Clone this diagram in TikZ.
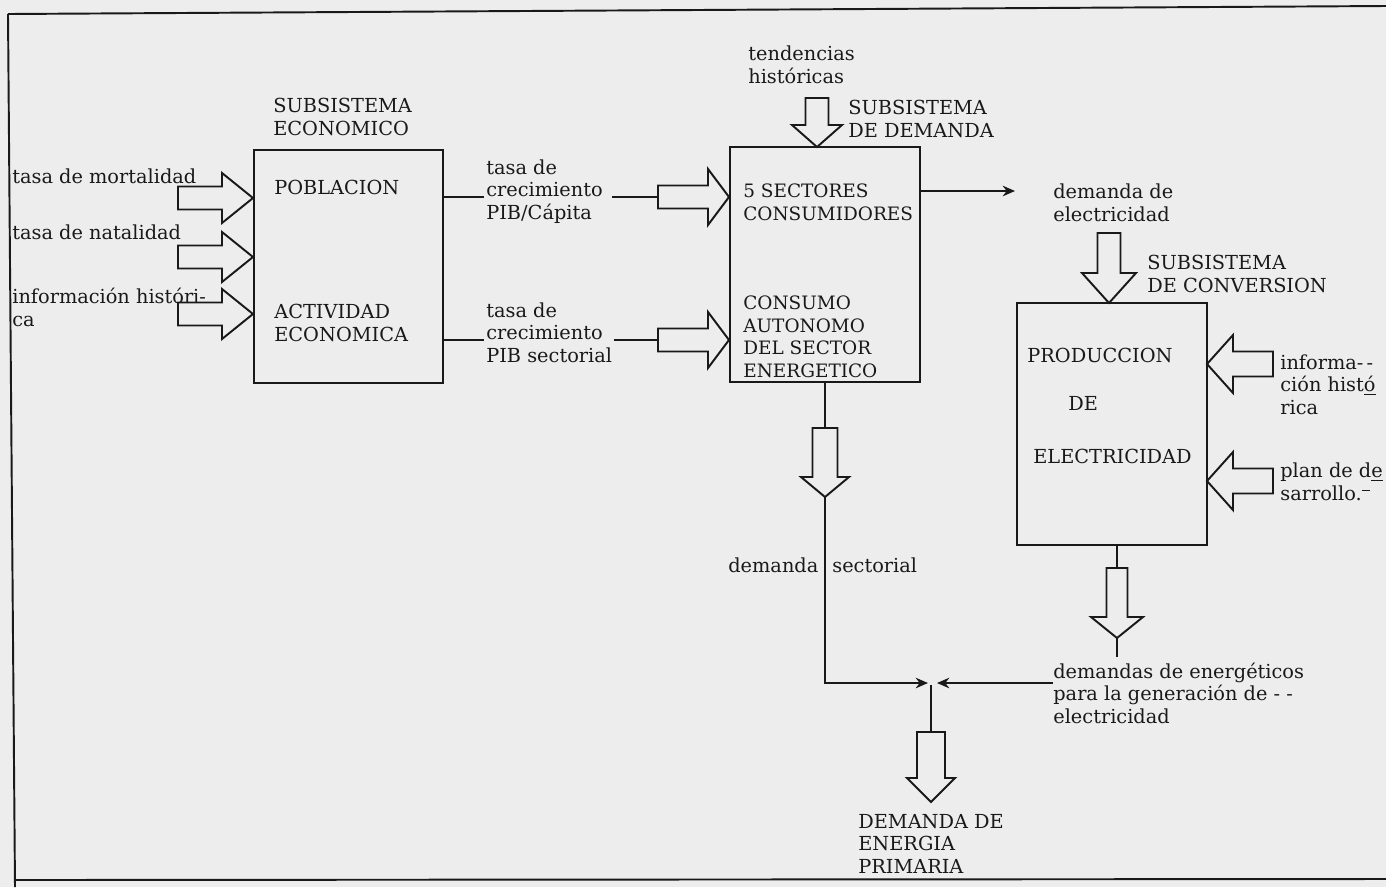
\documentclass[tikz,border=0pt]{standalone}
\usepackage{fontspec}
\setmainfont{DejaVu Serif}
\usetikzlibrary{arrows.meta}
\definecolor{paper}{RGB}{237,237,237}
\definecolor{ink}{RGB}{25,25,25}
\tikzset{
 txt/.style={anchor=base west, inner sep=0pt, align=left, font=\fontsize{11}{12.8}\selectfont, text=ink},
 txtn/.style={txt, font=\fontsize{10.5}{12.8}\selectfont},
 boxst/.style={draw=ink, line width=1.1pt, inner sep=0pt},
 barrow/.style={draw=ink, line width=1.1pt, line join=miter},
 conn/.style={draw=ink, line width=1.1pt},
 tipst/.style={-{Stealth[length=7pt,width=6pt]}}
}
% horizontal block arrow: tail x, head-base x, tip x, centre y, shaft half, head half
\newcommand\HArr[6]{\draw[barrow] ({#1},{#4-#5}) -- ({#2},{#4-#5}) -- ({#2},{#4-#6}) -- ({#3},{#4}) -- ({#2},{#4+#6}) -- ({#2},{#4+#5}) -- ({#1},{#4+#5}) -- cycle;}
% vertical block arrow: centre x, tail y, head-base y, tip y, shaft half, head half
\newcommand\VArr[6]{\draw[barrow] ({#1-#5},{#2}) -- ({#1-#5},{#3}) -- ({#1-#6},{#3}) -- ({#1},{#4}) -- ({#1+#6},{#3}) -- ({#1+#5},{#3}) -- ({#1+#5},{#2}) -- cycle;}
\begin{document}
\begin{tikzpicture}[x=0.02cm,y=-0.02cm]
\useasboundingbox (0,0) rectangle (1386,887);
\fill[paper] (0,0) rectangle (1386,887);
% frame
\draw[conn] (8,14) -- (1386,6);
\draw[conn] (8,14) -- (15,887);
\draw[conn] (15,880) -- (1386,879);

% boxes
\node[boxst, minimum width=3.78cm, minimum height=4.66cm] (b1) at (348.5,266.5) {};
\node[boxst, minimum width=3.8cm, minimum height=4.7cm] (b2) at (825,264.5) {};
\node[boxst, minimum width=3.8cm, minimum height=4.84cm] (b3) at (1112,424) {};

% economic subsystem (base = baseline of last line)
\node[txt] (se) at (273,135) {SUBSISTEMA\\ECONOMICO};
\node[txt] (pob) at (274,194) {POBLACION};
\node[txt] (act) at (274,341) {ACTIVIDAD\\ECONOMICA};
\node[txt] (tm) at (12,183) {tasa de mortalidad};
\node[txt] (tn) at (12,239) {tasa de natalidad};
\node[txt] (ih) at (12,326) {información históri-\\ca};
\HArr{178}{222}{253}{198}{11.5}{25}
\HArr{178}{222}{253}{257}{11.5}{25}
\HArr{178}{222}{253}{314}{11.5}{25}

% links to demand subsystem
\node[txt] (tc1) at (486,219) {tasa de\\crecimiento\\PIB/Cápita};
\node[txt] (tc2) at (486,362) {tasa de\\crecimiento\\PIB sectorial};
\coordinate (a1) at (658,197);
\coordinate (a2) at (658,340);
\draw[conn] (b1.east |- a1) -- (484,197);
\draw[conn] (612,197) -- (a1);
\draw[conn] (b1.east |- a2) -- (484,340);
\draw[conn] (614,340) -- (a2);
\HArr{658}{708}{729}{197}{11.5}{28}
\HArr{658}{708}{729}{340}{11.5}{28}

% demand subsystem
\node[txt] (th) at (748,83) {tendencias\\históricas};
\VArr{817}{98}{125}{147}{11.5}{25}
\node[txt] (sd) at (848,137) {SUBSISTEMA\\DE DEMANDA};
\node[txtn] (sc) at (743,220) {5 SECTORES\\CONSUMIDORES};
\node[txtn] (ca) at (743,377) {CONSUMO\\AUTONOMO\\DEL SECTOR\\ENERGETICO};
\coordinate (de) at (1015,191);
\draw[conn, tipst] (b2.east |- de) -- (de);
\node[txt] (dee) at (1053,221) {demanda de\\electricidad};

% conversion subsystem
\VArr{1109}{233}{273}{303}{11.5}{27}
\node[txt] (sv) at (1147,292) {SUBSISTEMA\\DE CONVERSION};
\node[txt] (pr) at (1027,362) {PRODUCCION};
\node[txt] (pde) at (1068,410) {DE};
\node[txt] (pel) at (1033,463) {ELECTRICIDAD};
\HArr{1273}{1233}{1207}{364}{12.5}{29}
\HArr{1273}{1233}{1207}{481}{12.5}{29}
\node[txt] (inf) at (1280,414) {informa-\,-\\ción hist\underline{ó}\\rica};
\node[txt] (pl) at (1280,500) {plan de d\underline{e}\\sarrollo.\raisebox{0.9ex}{\rule{0.45em}{0.6pt}}};

% sectoral demand
\coordinate (s1) at (825,428);
\draw[conn] (b2.south) -- (s1);
\VArr{825}{428}{477}{497}{12.5}{24}
\coordinate (s2) at (825,497);
\coordinate (jn) at (825,683);
\coordinate (jl) at (928,683);
\coordinate (jr) at (937,683);
\draw[conn, tipst] (s2) -- (jn) -- (jl);
\node[txt] (dm) at (728,572) {demanda};
\node[txt] (dse) at (832,572) {sectorial};

% electricity generation demand
\coordinate (e1) at (1117,568);
\draw[conn] (b3.south -| e1) -- (e1);
\VArr{1117}{568}{617}{638}{10.5}{26}
\draw[conn] (1117,638) -- (1117,657);
\node[txt] (deg) at (1053,723) {demandas de energéticos\\para la generación de - -\\electricidad};
\draw[conn, tipst] (deg.west |- jr) -- (jr);

% primary energy demand
\coordinate (p1) at (931,685);
\coordinate (p2) at (931,732);
\draw[conn] (p1) -- (p2);
\VArr{931}{732}{778}{802}{14}{24}
\node[txt] (dep) at (858,873) {DEMANDA DE\\ENERGIA\\PRIMARIA};
\end{tikzpicture}
\end{document}
